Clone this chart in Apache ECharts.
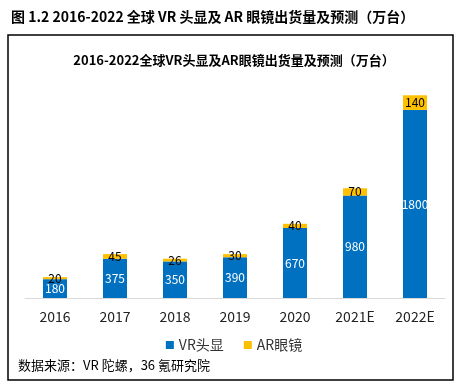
<!DOCTYPE html>
<html><head><meta charset="utf-8">
<script src="https://cdn.jsdelivr.net/npm/echarts@6/dist/echarts.min.js"></script>
<style>html,body{margin:0;padding:0;background:#fff}#c{width:468px;height:389px}</style>
</head><body><div id="c"></div>
<script>
const categories = ['2016','2017','2018','2019','2020','2021E','2022E'];
const vrValues = [180, 375, 350, 390, 670, 980, 1800];
const arValues = [20, 45, 26, 30, 40, 70, 140];
const seriesNames = ['VR头显', 'AR眼镜'];
const FONT = '"Noto Sans CJK SC", "Noto Sans", sans-serif';
const chart = echarts.init(document.getElementById('c'));
chart.setOption({
  animation: false,
  backgroundColor: '#fff',
  textStyle: { fontFamily: FONT },
  title: [
    { text: '图 1.2 2016-2022 全球 VR 头显及 AR 眼镜出货量及预测（万台）', left: 6, top: 5,
      textStyle: { fontSize: 14, fontWeight: 'bold', color: '#000', fontFamily: FONT } },
    { text: '2016-2022全球VR头显及AR眼镜出货量及预测（万台）', left: 'center', top: 49,
      textStyle: { fontSize: 13, fontWeight: 'bold', color: '#000', fontFamily: FONT } }
  ],
  graphic: [
    { type: 'rect', shape: { x: 8, y: 35, width: 445, height: 345 },
      style: { fill: 'none', stroke: '#000', lineWidth: 1.5 }, silent: true, z: 100 },
    { type: 'text', left: 18, top: 359,
      style: { text: '数据来源：VR 陀螺，36 氪研究院', fontSize: 13, fill: '#000', fontFamily: FONT } }
  ],
  legend: {
    data: seriesNames, top: 333, left: 'center', itemWidth: 8, itemHeight: 8, itemGap: 20,
    icon: 'rect', textStyle: { fontSize: 14, color: '#333', fontFamily: FONT }
  },
  grid: { left: 25, right: 23, top: 89, bottom: 91 },
  xAxis: {
    type: 'category', data: categories,
    axisLine: { lineStyle: { color: '#d9d9d9' } },
    axisTick: { show: false },
    axisLabel: { fontSize: 14, color: '#222', margin: 12, fontFamily: FONT }
  },
  yAxis: { type: 'value', min: 0, max: 2000, show: false, splitLine: { show: false } },
  series: [
    { name: seriesNames[0], type: 'bar', stack: 't', data: vrValues, barWidth: 24,
      itemStyle: { color: '#0070C0' },
      label: { show: true, position: 'inside', color: '#fff', fontSize: 12, fontFamily: FONT } },
    { name: seriesNames[1], type: 'bar', stack: 't', data: arValues, barWidth: 24,
      itemStyle: { color: '#FFC000' },
      label: { show: true, position: 'inside', color: '#000', fontSize: 12, fontFamily: FONT } }
  ]
});
</script></body></html>
